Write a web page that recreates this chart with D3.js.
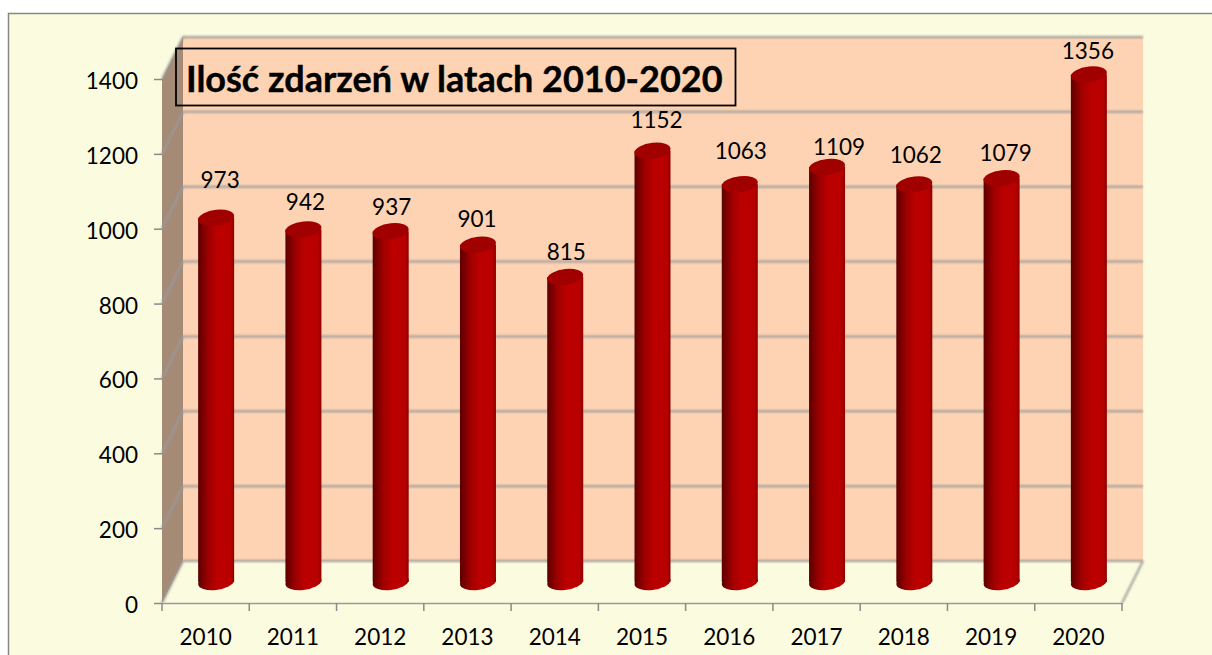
<!DOCTYPE html>
<html>
<head>
<meta charset="utf-8">
<script src="https://cdn.jsdelivr.net/npm/d3@7"></script>
<style>
  html, body { margin: 0; padding: 0; background: #fff; overflow: hidden; }
  text { font-family: Lato, "Open Sans", sans-serif; fill: #000; }
</style>
</head>
<body>
<script>
const years = [2010, 2011, 2012, 2013, 2014, 2015, 2016, 2017, 2018, 2019, 2020];
const counts = [973, 942, 937, 901, 815, 1152, 1063, 1109, 1062, 1079, 1356];
const yTicks = [0, 200, 400, 600, 800, 1000, 1200, 1400];

// labels were dragged by hand in the original, so each one has its own nudge
const labelLift = [38, 27, 24, 26, 25, 31, 33, 20, 29, 25, 23];
const labelShift = [4, 2, 1, -1, 1, 4, 1, 12, 1.5, 4, -1];

function main() {
    const width = 1212, height = 655;
    const depthX = 21, depthY = -42;

    let svg = d3.select("body").append("svg")
        .attr("width", width)
        .attr("height", height)
        .style("display", "block");

    let defs = svg.append("defs");

    let barGrad = defs.append("linearGradient").attr("id", "barGrad");
    barGrad.append("stop").attr("offset", "0%").attr("stop-color", "#5c0000");
    barGrad.append("stop").attr("offset", "30%").attr("stop-color", "#a00000");
    barGrad.append("stop").attr("offset", "55%").attr("stop-color", "#bc0000");
    barGrad.append("stop").attr("offset", "90%").attr("stop-color", "#b80000");
    barGrad.append("stop").attr("offset", "100%").attr("stop-color", "#8c0000");

    defs.append("filter").attr("id", "soft")
        .attr("filterUnits", "userSpaceOnUse")
        .attr("x", 0).attr("y", 0).attr("width", width).attr("height", height)
        .append("feGaussianBlur").attr("stdDeviation", 0.8);
    defs.append("filter").attr("id", "softBar")
        .attr("filterUnits", "userSpaceOnUse")
        .attr("x", 0).attr("y", 0).attr("width", width).attr("height", height)
        .append("feGaussianBlur").attr("stdDeviation", 0.6);

    let xScale = d3.scaleBand().domain(years).range([162, 1122]);
    let yScale = d3.scaleLinear().domain([0, 1400]).range([603, 79]);

    // frame
    svg.append("rect")
        .attr("x", 8.5).attr("y", 13.5)
        .attr("width", width).attr("height", height)
        .attr("fill", "#fbfbdf")
        .attr("stroke", "#868686")
        .attr("stroke-width", 1.5);

    let x0 = xScale.range()[0], x1 = xScale.range()[1];
    let y0 = yScale(0), yTop = yScale(1400);

    // back wall, side wall
    svg.append("rect")
        .attr("x", x0 + depthX).attr("y", yTop + depthY)
        .attr("width", x1 - x0).attr("height", y0 - yTop)
        .attr("fill", "#fdd3b3");
    svg.append("polygon")
        .attr("points", [[x0, y0], [x0, yTop], [x0 + depthX, yTop + depthY], [x0 + depthX, y0 + depthY]].join(" "))
        .attr("fill", "#a58a76");

    // gridlines run along the back wall and down the side wall
    let grid = svg.append("g")
        .attr("fill", "none")
        .attr("stroke", "#9a9a9a")
        .attr("stroke-width", 2)
        .attr("filter", "url(#soft)");
    grid.selectAll("path")
        .data(yTicks)
        .enter()
        .append("path")
        .attr("d", d => `M${x0},${yScale(d)}L${x0 + depthX},${yScale(d) + depthY}L${x1 + depthX},${yScale(d) + depthY}`);
    grid.append("path")
        .attr("d", `M${x1},${y0}L${x1 + depthX},${y0 + depthY}`);

    // axes
    let xAxis = d3.axisBottom(xScale).tickSize(0).tickPadding(26);
    let yAxis = d3.axisLeft(yScale).tickValues(yTicks).tickFormat(d3.format("d")).tickSize(8).tickPadding(16);

    let gx = svg.append("g")
        .attr("transform", `translate(0,${y0})`)
        .style("font-size", "22.5px")
        .call(xAxis);
    gx.select(".domain").attr("stroke", "#9a9a9a").attr("stroke-width", 1.5);
    gx.selectAll("text").attr("font-family", null);

    // x ticks sit between the categories
    let xEdges = years.map(d => xScale(d)).concat([x1]);
    svg.append("g").selectAll("line")
        .data(xEdges)
        .enter()
        .append("line")
        .attr("x1", d => d).attr("x2", d => d)
        .attr("y1", y0).attr("y2", y0 + 8)
        .attr("stroke", "#8a8a8a")
        .attr("stroke-width", 1.5);

    let gy = svg.append("g")
        .attr("transform", `translate(${x0},0)`)
        .style("font-size", "22.5px")
        .call(yAxis);
    gy.select(".domain").remove();
    gy.selectAll("line").attr("stroke", "#8a8a8a").attr("stroke-width", 1.5);
    gy.selectAll("text").attr("font-family", null).attr("dy", "0.42em");

    // cylinders stand half way into the depth of the floor
    let barCx = d => xScale(d) + xScale.bandwidth() / 2 + depthX / 2;
    let zero = yScale(0) + depthY / 2;
    let barTop = v => yScale(v) + depthY / 2;
    let rx = 18, ry = 8, skew = -6;

    let rows = years.map((y, i) => ({ year: y, count: counts[i], lift: labelLift[i], shift: labelShift[i] }));

    let bars = svg.append("g").selectAll("g")
        .data(rows)
        .enter()
        .append("g")
        .attr("filter", "url(#softBar)");

    // skew rather than rotate so the caps stay exactly as wide as the body
    bars.append("ellipse")
        .attr("rx", rx).attr("ry", ry)
        .attr("transform", d => `translate(${barCx(d.year)},${zero}) skewY(${skew})`)
        .attr("fill", "url(#barGrad)");
    bars.append("rect")
        .attr("x", d => barCx(d.year) - rx)
        .attr("y", d => barTop(d.count))
        .attr("width", rx * 2)
        .attr("height", d => zero - barTop(d.count))
        .attr("fill", "url(#barGrad)");
    bars.append("ellipse")
        .attr("rx", rx).attr("ry", ry)
        .attr("transform", d => `translate(${barCx(d.year)},${barTop(d.count)}) skewY(${skew})`)
        .attr("fill", "#a00000");

    svg.append("g").selectAll("text")
        .data(rows)
        .enter()
        .append("text")
        .attr("x", d => barCx(d.year) + d.shift)
        .attr("y", d => barTop(d.count) - d.lift)
        .attr("dy", "0.35em")
        .attr("text-anchor", "middle")
        .style("font-size", "22.5px")
        .text(d => d.count);

    // title box
    svg.append("rect")
        .attr("x", 176).attr("y", 48.5)
        .attr("width", 559.5).attr("height", 57)
        .attr("fill", "none")
        .attr("stroke", "#000")
        .attr("stroke-width", 1.8);
    svg.append("text")
        .attr("x", 186).attr("y", 92)
        .style("font-size", "36px")
        .style("font-weight", "bold")
        .style("stroke", "#000")
        .style("stroke-width", 0.4)
        .text("Ilość zdarzeń w latach 2010-2020");
}

main()
</script>
</body>
</html>
